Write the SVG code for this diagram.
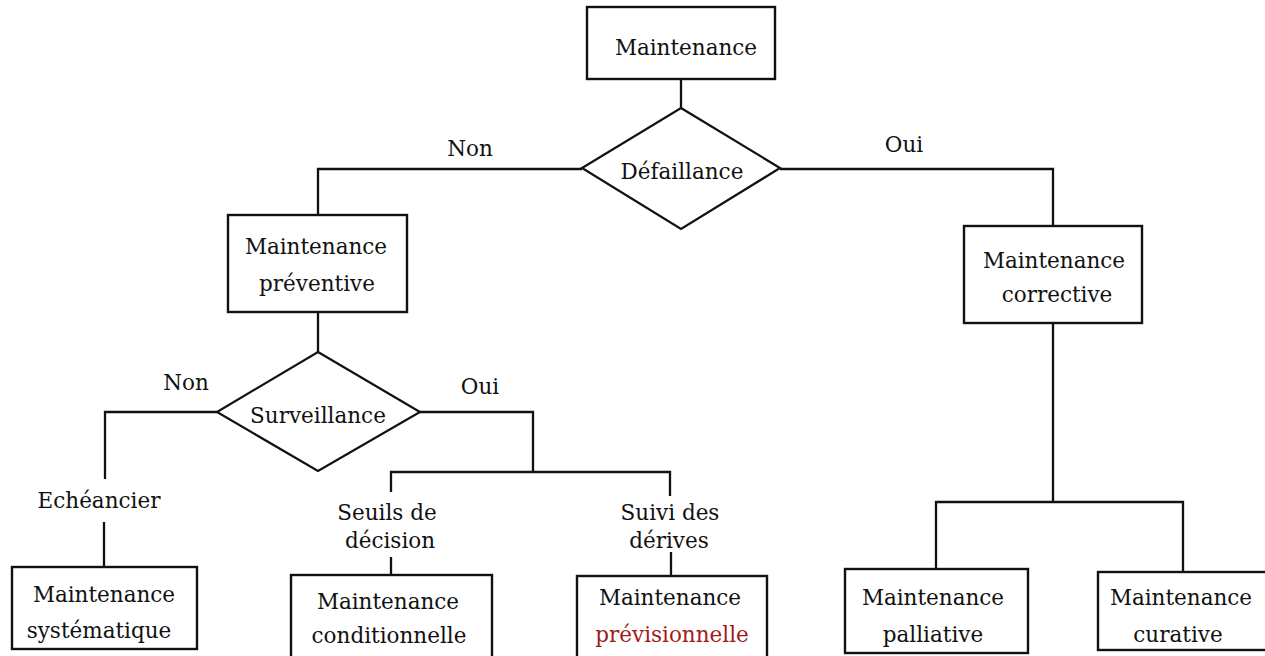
<svg xmlns="http://www.w3.org/2000/svg" width="1265" height="656" viewBox="0 0 1265 656">
<style>
.box{fill:#fff;stroke:#111;stroke-width:2.4}
.dia{fill:#fff;stroke:#111;stroke-width:2.2}
.ln{fill:none;stroke:#111;stroke-width:2.3}
text{font-family:"DejaVu Serif","Liberation Serif",serif;font-size:21.5px;fill:#111;text-anchor:middle}
.red{fill:#a01c1c}
</style>
<rect width="1265" height="656" fill="#fff"/>
<g id="connectors">
<path class="ln" d="M681,79 V108"/>
<path class="ln" d="M582,169 H318 V215"/>
<path class="ln" d="M780,169 H1053 V226"/>
<path class="ln" d="M318,312 V352"/>
<path class="ln" d="M217,412 H105 V479"/>
<path class="ln" d="M104,522 V567"/>
<path class="ln" d="M420,412 H533 V472"/>
<path class="ln" d="M391,492 V472 H670 V496"/>
<path class="ln" d="M391,557 V575"/>
<path class="ln" d="M671,552 V576"/>
<path class="ln" d="M1053,323 V502"/>
<path class="ln" d="M936,569 V502 H1183 V572"/>
<text x="470" y="156">Non</text>
<text x="904" y="152">Oui</text>
<text x="186" y="390">Non</text>
<text x="480" y="394">Oui</text>
<text x="99" y="508">Echéancier</text>
<text x="387" y="520">Seuils de</text>
<text x="390" y="548">décision</text>
<text x="670" y="520">Suivi des</text>
<text x="669" y="548">dérives</text>
</g>
<g id="maintenance">
<rect class="box" x="587" y="7" width="188" height="72"/>
<text x="686" y="55">Maintenance</text>
</g>
<g id="defaillance">
<polygon class="dia" points="681,108 780,168 681,229 582,168"/>
<text x="682" y="179">Défaillance</text>
</g>
<g id="preventive">
<rect class="box" x="228" y="215" width="179" height="97"/>
<text x="316" y="254">Maintenance</text>
<text x="317" y="291">préventive</text>
</g>
<g id="surveillance">
<polygon class="dia" points="318,352 420,412 318,471 217,412"/>
<text x="318" y="423">Surveillance</text>
</g>
<g id="corrective">
<rect class="box" x="964" y="226" width="178" height="97"/>
<text x="1054" y="268">Maintenance</text>
<text x="1057" y="302">corrective</text>
</g>
<g id="systematique">
<rect class="box" x="12" y="567" width="185" height="82"/>
<text x="104" y="602">Maintenance</text>
<text x="99" y="638">systématique</text>
</g>
<g id="conditionnelle">
<rect class="box" x="291" y="575" width="201" height="95"/>
<text x="388" y="609">Maintenance</text>
<text x="389" y="643">conditionnelle</text>
</g>
<g id="previsionnelle">
<rect class="box" x="577" y="576" width="190" height="95"/>
<text x="670" y="605">Maintenance</text>
<text class="red" x="672" y="642">prévisionnelle</text>
</g>
<g id="palliative">
<rect class="box" x="845" y="569" width="183" height="84"/>
<text x="933" y="605">Maintenance</text>
<text x="933" y="642">palliative</text>
</g>
<g id="curative">
<rect class="box" x="1098" y="572" width="180" height="78"/>
<text x="1181" y="605">Maintenance</text>
<text x="1178" y="642">curative</text>
</g>
</svg>
